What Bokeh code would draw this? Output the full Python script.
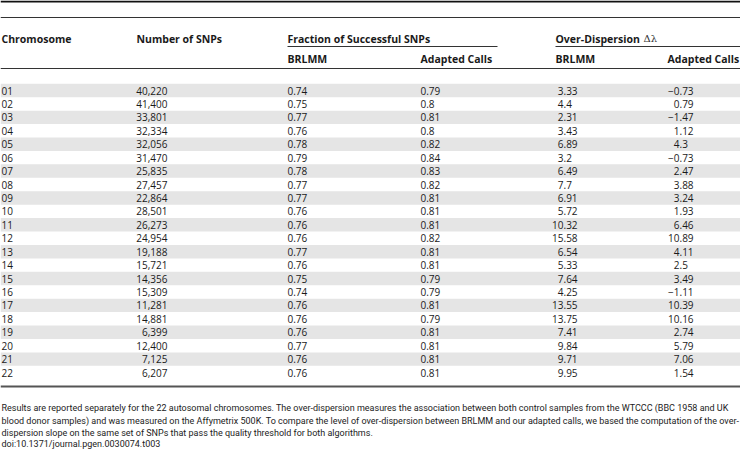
from bokeh.plotting import figure
from bokeh.models import Range1d
from bokeh.core.properties import value
from bokeh.embed import file_html
from bokeh.resources import INLINE

# ---------------- data ----------------
chromosomes = ["01", "02", "03", "04", "05", "06", "07", "08", "09", "10", "11",
               "12", "13", "14", "15", "16", "17", "18", "19", "20", "21", "22"]
num_snps = [40220, 41400, 33801, 32334, 32056, 31470, 25835, 27457, 22864, 28501, 26273,
            24954, 19188, 15721, 14356, 15309, 11281, 14881, 6399, 12400, 7125, 6207]
frac_brlmm = [0.74, 0.75, 0.77, 0.76, 0.78, 0.79, 0.78, 0.77, 0.77, 0.76, 0.76,
              0.76, 0.77, 0.76, 0.75, 0.74, 0.76, 0.76, 0.76, 0.77, 0.76, 0.76]
frac_adapted = [0.79, 0.8, 0.81, 0.8, 0.82, 0.84, 0.83, 0.82, 0.81, 0.81, 0.81,
                0.82, 0.81, 0.81, 0.79, 0.79, 0.81, 0.79, 0.81, 0.81, 0.81, 0.81]
od_brlmm = [3.33, 4.4, 2.31, 3.43, 6.89, 3.2, 6.49, 7.7, 6.91, 5.72, 10.32,
            15.58, 6.54, 5.33, 7.64, 4.25, 13.55, 13.75, 7.41, 9.84, 9.71, 9.95]
od_adapted = [-0.73, 0.79, -1.47, 1.12, 4.3, -0.73, 2.47, 3.88, 3.24, 1.93, 6.46,
              10.89, 4.11, 2.5, 3.49, -1.11, 10.39, 10.16, 2.74, 5.79, 7.06, 1.54]

header_top = ["Chromosome", "Number of SNPs", "Fraction of Successful SNPs", "Over-Dispersion"]
header_sub = ["BRLMM", "Adapted Calls", "BRLMM", "Adapted Calls"]
caption = [
    "Results are reported separately for the 22 autosomal chromosomes. The over-dispersion measures the association between both control samples from the WTCCC (BBC 1958 and UK",
    "blood donor samples) and was measured on the Affymetrix 500K. To compare the level of over-dispersion between BRLMM and our adapted calls, we based the computation of the over-",
    "dispersion slope on the same set of SNPs that pass the quality threshold for both algorithms.",
    "doi:10.1371/journal.pgen.0030074.t003",
]

# ---------------- layout (reference pixel space) ----------------
W, H = 740, 449
ROW0, ROWH = 90.0, 13.43
TXT = "#1a1a1a"
BODY = value("Open Sans")

p = figure(width=W, height=H, output_backend="svg", toolbar_location=None,
           x_range=Range1d(0, W), y_range=Range1d(H, 0), min_border=0)
p.axis.visible = False
p.grid.visible = False
p.outline_line_color = None
p.background_fill_color = "white"
p.border_fill_color = "white"

n = len(chromosomes)
row_y = [ROW0 + i * ROWH for i in range(n)]

# zebra bands
band_y = [row_y[i] for i in range(n) if i % 2 == 0]
p.quad(left=0, right=W, top=[y - ROWH / 2 for y in band_y], bottom=[y + ROWH / 2 for y in band_y],
       fill_color="#e5e5e5", line_color=None)

# rules
p.segment(x0=[0], y0=[1], x1=[W], y1=[1], line_color="#111111", line_width=2)
p.segment(x0=[0, 0], y0=[17, 68], x1=[W, W], y1=[17, 68], line_color="#333333", line_width=1)
p.segment(x0=[287, 555], y0=[46, 46], x1=[497, W], y1=[46, 46], line_color="#333333", line_width=1)
p.segment(x0=[0], y0=[386], x1=[W], y1=[386], line_color="#555555", line_width=2)

# headers
p.text(x=[1, 136, 287, 555], y=[38] * 4, text=header_top, text_font=BODY, text_font_style="bold",
       text_font_size="10.5px", text_color=TXT, text_baseline="middle", text_align="left")
p.text(x=[643], y=[38], text=["Δλ"], text_font=value("DejaVu Serif"), text_font_size="10px",
       text_color="#333333", text_baseline="middle", text_align="left")
p.text(x=[287, 420, 555, 667], y=[58] * 4, text=header_sub, text_font=BODY, text_font_style="bold",
       text_font_size="10.5px", text_color=TXT, text_baseline="middle", text_align="left")

def cell(xs, texts, align):
    p.text(x=xs, y=row_y, text=texts, text_font=BODY, text_font_size="10px", text_color=TXT,
           text_baseline="middle", text_align=align)

cell([1] * n, chromosomes, "left")
cell([167] * n, [f"{v:,}" for v in num_snps], "right")
cell([287] * n, [str(v) for v in frac_brlmm], "left")
cell([420] * n, [str(v) for v in frac_adapted], "left")

def dec_cells(xd, vals):
    s = [str(v).replace("-", "\u2212") for v in vals]
    ints = [t.split(".")[0] for t in s]
    fracs = ["." + t.split(".")[1] for t in s]
    cell([xd] * n, ints, "right")
    cell([xd] * n, fracs, "left")

dec_cells(563, od_brlmm)
dec_cells(679, od_adapted)

# caption
p.text(x=[1] * 4, y=[407, 420, 432, 443], text=caption, text_font=value("Roboto"),
       text_font_size="9px", text_color="#222222", text_baseline="middle", text_align="left")

open("out.html", "w").write(file_html(p, INLINE))
